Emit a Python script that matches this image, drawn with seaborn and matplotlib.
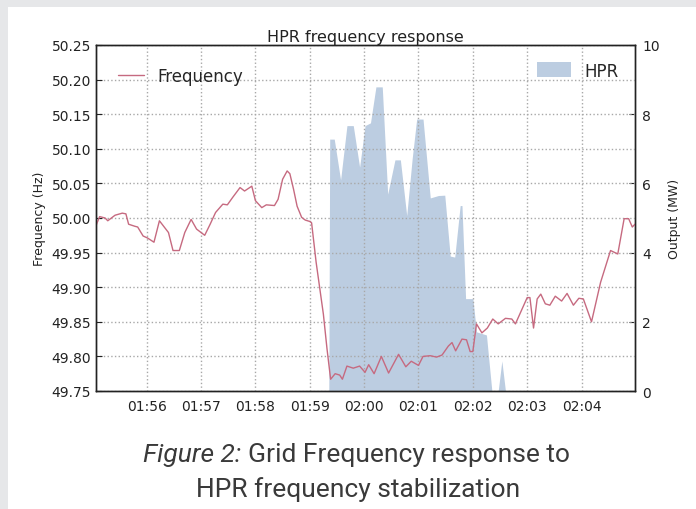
import numpy as np
import pandas as pd
import matplotlib
matplotlib.use("Agg")
import matplotlib.pyplot as plt
import seaborn as sns
from matplotlib.patches import Rectangle
from matplotlib.ticker import FuncFormatter, MultipleLocator

# seconds after 01:55:00
freq_t = [4, 8, 14, 17, 25, 33, 37, 40, 47, 50, 56, 61, 68, 74, 84, 89, 96, 102,
          109, 115, 124, 130, 136, 144, 149, 155, 163, 168, 176, 180, 187, 192,
          201, 205, 210, 215, 218, 222, 226, 231, 235, 240, 242, 247, 255, 259,
          263, 268, 273, 276, 281, 288, 295, 301, 305, 311, 319, 327, 338, 346,
          352, 360, 365, 373, 380, 386, 393, 397, 401, 408, 413, 417, 420, 424,
          430, 436, 442, 448, 456, 463, 467, 480, 483, 487, 491, 495, 500, 505,
          511, 518, 524, 531, 537, 542, 551, 561, 572, 580, 587, 592, 596, 599]
freq_hz = [49.989, 50.002, 50.000, 49.996, 50.004, 50.007, 50.006, 49.991,
           49.988, 49.987, 49.974, 49.971, 49.965, 49.996, 49.979, 49.953,
           49.953, 49.979, 49.998, 49.984, 49.975, 49.991, 50.008, 50.020,
           50.019, 50.030, 50.044, 50.039, 50.046, 50.025, 50.015, 50.019,
           50.018, 50.027, 50.056, 50.068, 50.064, 50.042, 50.017, 50.001,
           49.997, 49.995, 49.993, 49.936, 49.861, 49.811, 49.767, 49.775,
           49.773, 49.767, 49.786, 49.783, 49.786, 49.777, 49.788, 49.775,
           49.800, 49.776, 49.803, 49.785, 49.793, 49.787, 49.800, 49.801,
           49.799, 49.802, 49.815, 49.820, 49.808, 49.825, 49.824, 49.807,
           49.807, 49.847, 49.834, 49.841, 49.854, 49.847, 49.855, 49.854,
           49.847, 49.885, 49.885, 49.841, 49.883, 49.890, 49.876, 49.874,
           49.887, 49.880, 49.891, 49.874, 49.884, 49.883, 49.850, 49.907,
           49.953, 49.948, 49.999, 49.999, 49.987, 49.991]

hpr_t = [4, 261, 262, 267, 274, 281, 288, 295, 301, 307, 313, 320, 326, 334,
         340, 347, 353, 358, 365, 373, 382, 389, 395, 400, 406, 408, 412, 420,
         424, 435, 441, 448, 452, 456, 599]
hpr_mw = [0, 0, 7.28, 7.28, 6.10, 7.67, 7.67, 6.47, 7.67, 7.75, 8.79, 8.79,
          5.69, 6.68, 6.68, 5.07, 6.71, 7.86, 7.86, 5.58, 5.65, 5.66, 3.90,
          3.87, 5.36, 5.36, 2.67, 2.67, 1.71, 1.62, 0, 0, 0.87, 0, 0]

freq_ticks = [49.75, 49.80, 49.85, 49.90, 49.95, 50.00, 50.05, 50.10, 50.15, 50.20, 50.25]
mw_ticks = [0, 2, 4, 6, 8, 10]

line_color = "#c66a80"
fill_color = "#bccde1"

sns.set_style("white")
plt.rcParams['font.family'] = ['DejaVu Sans']

fig = plt.figure(figsize=(6.96, 5.10), dpi=100)
fig.patch.set_facecolor("#e6e7e9")
card = Rectangle((8 / 696, 0), 1, 1 - 8 / 510, transform=fig.transFigure,
                 facecolor="white", edgecolor="none", zorder=-10)
fig.patches.append(card)

ax1 = fig.add_axes([96 / 696, 1 - 392 / 510, 539 / 696, 346 / 510])
ax2 = ax1.twinx()
ax1.set_zorder(2)
ax2.set_zorder(1)
ax1.patch.set_visible(False)
ax2.patch.set_facecolor("white")

freq_df = pd.DataFrame({"t": freq_t, "f": freq_hz})
sns.lineplot(data=freq_df, x="t", y="f", ax=ax1, color=line_color, lw=1.0,
             label="Frequency")
ax2.fill_between(hpr_t, hpr_mw, 0, color=fill_color, lw=0, label="HPR")

ax1.set_xlim(freq_t[0], freq_t[-1])
ax1.set_ylim(49.75, 50.25)
ax2.set_ylim(0, 10)
ax1.set_yticks(freq_ticks)
ax1.yaxis.set_major_formatter(FuncFormatter(lambda v, p: f"{v:.2f}"))
ax2.set_yticks(mw_ticks)
ax2.yaxis.set_ticks_position("right")
ax2.yaxis.set_label_position("right")
ax1.xaxis.set_major_locator(MultipleLocator(60))
ax1.xaxis.set_major_formatter(
    FuncFormatter(lambda v, p: f"{int(115 + v // 60) // 60:02d}:{int(115 + v // 60) % 60:02d}"))

ax1.grid(True, color="#a8a8a8", linestyle=":", lw=1.0)
ax1.set_xlabel("")
ax1.set_ylabel("Frequency (Hz)", fontsize=9, color="#222222")
ax2.set_ylabel("Output (MW)", fontsize=9, color="#222222", labelpad=6)
ax1.set_title("HPR frequency response", fontsize=11.5, color="#222222", pad=3)

for ax in (ax1, ax2):
    ax.tick_params(direction="in", length=4, width=0.8, labelsize=10,
                   colors="#222222")
    for s in ax.spines.values():
        s.set_color("#222222")
        s.set_linewidth(1.0)
ax1.tick_params(axis="x", pad=6)
ax2.tick_params(axis="y", right=True, labelright=True, pad=5)

ax1.legend(loc="upper left", frameon=False, fontsize=12, handlelength=1.6,
           borderaxespad=0.9)
ax2.legend(loc="upper right", frameon=False, fontsize=12, handlelength=2.0,
           handleheight=1.0, borderaxespad=0.6)

cap_kw = dict(fontsize=19, color="#3a3a3a", family=["Roboto", "DejaVu Sans"],
              va="center")
t1 = fig.text(143 / 696, 1 - 455 / 510, "Figure 2:", style="italic", ha="left", **cap_kw)
fig.canvas.draw()
bb = t1.get_window_extent()
fig.text(bb.x1 / 696 + 0.009, 1 - 455 / 510, "Grid Frequency response to", ha="left", **cap_kw)
fig.text(358 / 696, 1 - 490 / 510, "HPR frequency stabilization", ha="center", **cap_kw)

fig.savefig("out.png", dpi=100, facecolor=fig.get_facecolor())
